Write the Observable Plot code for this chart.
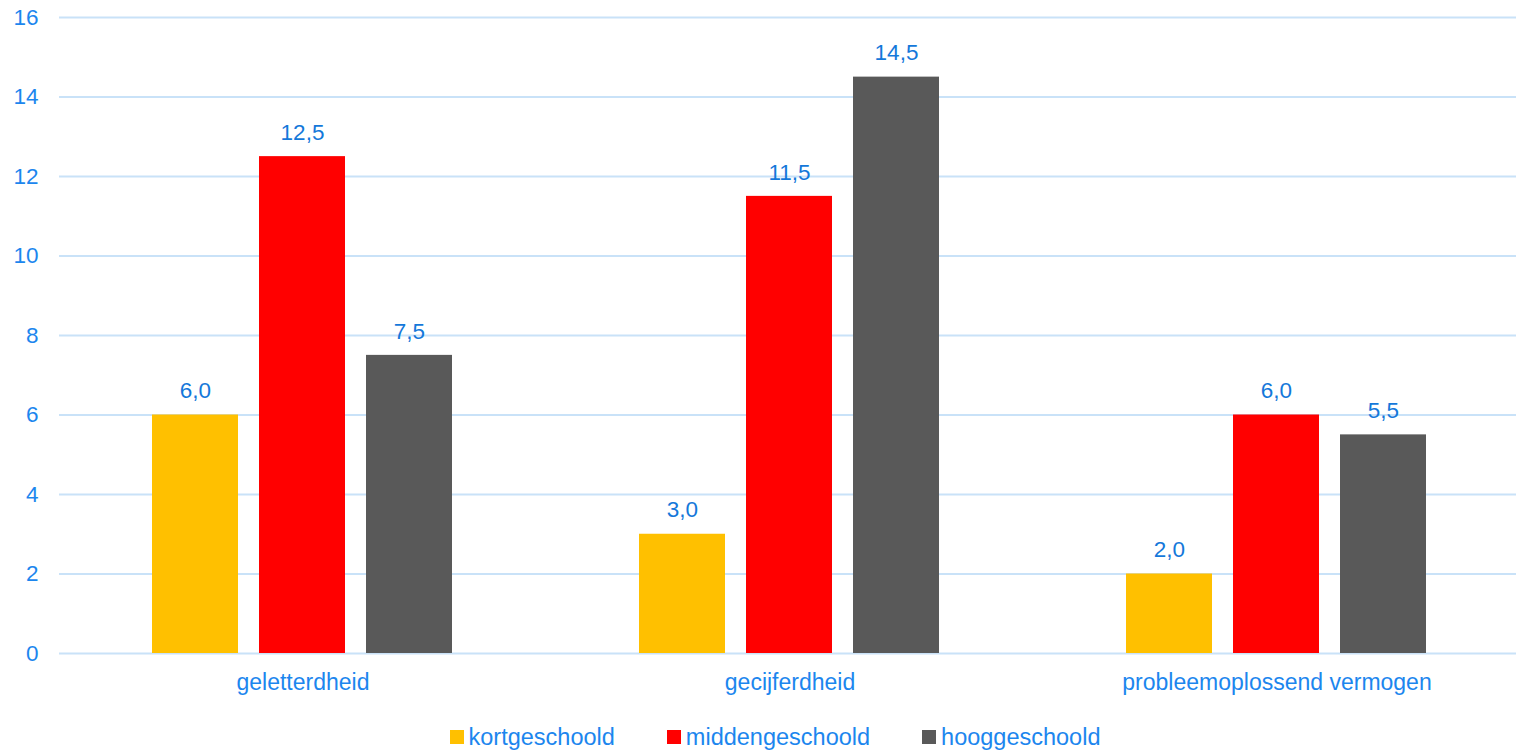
<!DOCTYPE html>
<html>
<head>
<meta charset="utf-8">
<script src="https://cdn.jsdelivr.net/npm/d3@7"></script>
<script src="https://cdn.jsdelivr.net/npm/@observablehq/plot@0.6"></script>
<style>
  html, body { margin: 0; padding: 0; background: #fff; overflow: hidden; }
  body { width: 1516px; height: 751px; font-family: "Liberation Sans", Arial, sans-serif; }
  #chart { height: 700px; }
  #legend { display: flex; justify-content: center; align-items: center; gap: 52px;
            margin-left: 34px; margin-top: 23px; font-size: 23.5px; line-height: 28px; color: #1C86EE; }
  #legend .item { display: flex; align-items: center; }
  #legend .sw { width: 14px; height: 14px; margin-right: 5px; display: inline-block; }
</style>
</head>
<body>
<div id="chart"></div>
<div id="legend"></div>
<script>
const categories = ["geletterdheid", "gecijferdheid", "probleemoplossend vermogen"];
const series = ["kortgeschoold", "middengeschoold", "hooggeschoold"];
const colors = ["#FFC000", "#FF0000", "#595959"];
const kortgeschoold = [6.0, 3.0, 2.0];
const middengeschoold = [12.5, 11.5, 6.0];
const hooggeschoold = [7.5, 14.5, 5.5];
const yTicks = [0, 2, 4, 6, 8, 10, 12, 14, 16];

const seriesValues = [kortgeschoold, middengeschoold, hooggeschoold];
const data = [];
categories.forEach((c, i) => {
  series.forEach((s, j) => data.push({category: c, series: s, value: seriesValues[j][i]}));
});

const fmt = v => v.toFixed(1).replace(".", ",");
const blue = "#1C86EE";

const plot = Plot.plot({
  width: 1516,
  height: 700,
  marginLeft: 58,
  marginRight: -5,
  marginTop: 17,
  marginBottom: 47,
  style: {fontFamily: "'Liberation Sans', Arial, sans-serif", fontSize: "22.5px", overflow: "visible"},
  fx: {domain: categories, padding: 0, label: null},
  x: {domain: series, paddingInner: 0.194, paddingOuter: 0.857, axis: null},
  y: {domain: [0, 16], label: null},
  color: {domain: series, range: colors},
  marks: [
    Plot.ruleY(yTicks, {stroke: "#C9E2F8", strokeWidth: 2}),
    Plot.axisY({ticks: yTicks, tickSize: 0, tickPadding: 21, fill: blue, fontSize: 22.5, label: null}),
    Plot.axisFx({anchor: "bottom", tickSize: 0, tickPadding: 20, fill: blue, fontSize: 23, label: null}),
    Plot.barY(data, {fx: "category", x: "series", y: "value", fill: "series"}),
    Plot.text(data, {fx: "category", x: "series", y: "value", text: d => fmt(d.value), dy: -24, fill: "#1478DA", fontSize: 22.5})
  ]
});
document.getElementById("chart").appendChild(plot);

const legend = document.getElementById("legend");
series.forEach((s, i) => {
  const item = document.createElement("div");
  item.className = "item";
  const sw = document.createElement("span");
  sw.className = "sw";
  sw.style.background = colors[i];
  item.appendChild(sw);
  item.appendChild(document.createTextNode(s));
  legend.appendChild(item);
});
</script>
</body>
</html>
